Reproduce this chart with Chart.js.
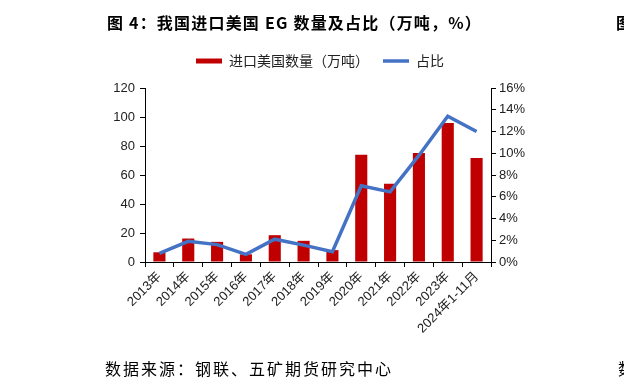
<!DOCTYPE html>
<html>
<head>
<meta charset="utf-8">
<script src="https://cdn.jsdelivr.net/npm/chart.js@4/dist/chart.umd.min.js"></script>
<style>
  body { margin: 0; background: #fff; overflow: hidden; }
  #wrap { position: relative; width: 624px; height: 390px; overflow: hidden; }
  canvas { position: absolute; left: 0; top: 0; }
  .txt { position: absolute; white-space: nowrap; color: #000; font-family: "Noto Sans CJK SC", sans-serif; }
  #title { left: 107px; top: 10px; font-size: 16px; font-weight: bold; letter-spacing: 1.2px; }
  #title2 { left: 616px; top: 10px; font-size: 16px; font-weight: bold; }
  #source { left: 105px; top: 356px; font-size: 16px; letter-spacing: 2px; }
  #source2 { left: 618px; top: 356px; font-size: 16px; }
</style>
</head>
<body>
<div id="wrap">
  <canvas id="chart" width="624" height="390"></canvas>
  <div class="txt" id="title">图 4：我国进口美国 EG 数量及占比（万吨，%）</div>
  <div class="txt" id="title2">图</div>
  <div class="txt" id="source">数据来源：钢联、五矿期货研究中心</div>
  <div class="txt" id="source2">数</div>
</div>
<script>
const categories = ['2013年', '2014年', '2015年', '2016年', '2017年', '2018年', '2019年',
  '2020年', '2021年', '2022年', '2023年', '2024年1-11月'];
// 进口美国数量（万吨）
const volume = [6.7, 16.2, 13.9, 5.3, 18.5, 14.6, 8.2, 74, 54, 75.2, 95.8, 71.8];
// 占比 (%)
const share = [0.8, 1.9, 1.6, 0.7, 2.1, 1.55, 0.95, 7.0, 6.45, 9.8, 13.4, 12.0];

const leftTicks = [0, 20, 40, 60, 80, 100, 120];
const rightTicks = [0, 2, 4, 6, 8, 10, 12, 14, 16];

const tickFont = { family: '"Liberation Sans", "Noto Sans CJK SC", sans-serif', size: 13 };

const ctx = document.getElementById('chart').getContext('2d');

// extra space under the legend
const legendGap = {
  id: 'legendGap',
  beforeInit(chart) {
    const fit = chart.legend.fit;
    chart.legend.fit = function () {
      fit.bind(chart.legend)();
      this.height += 10;
    };
  }
};

new Chart(ctx, {
  type: 'bar',
  data: {
    labels: categories,
    datasets: [{
      type: 'bar',
      label: '进口美国数量（万吨）',
      data: volume,
      backgroundColor: '#C00000',
      borderWidth: 0,
      barPercentage: 0.84,
      categoryPercentage: 0.5,
      pointStyle: 'rect',
      yAxisID: 'y',
      order: 2
    }, {
      type: 'line',
      label: '占比',
      data: share,
      borderColor: '#4472C4',
      backgroundColor: '#4472C4',
      borderWidth: 3.5,
      pointRadius: 0,
      pointStyle: 'line',
      tension: 0,
      yAxisID: 'y1',
      order: 1
    }]
  },
  options: {
    responsive: false,
    animation: false,
    layout: { padding: { left: 16, right: 0, top: 40, bottom: 0 } },
    plugins: {
      legend: {
        position: 'top',
        labels: {
          usePointStyle: true,
          pointStyleWidth: 26,
          boxHeight: 5,
          padding: 14,
          color: '#222',
          font: { family: '"Noto Sans CJK SC", sans-serif', size: 14 },
          sort: (a, b) => a.datasetIndex - b.datasetIndex
        }
      },
      tooltip: { enabled: false }
    },
    scales: {
      x: {
        grid: { display: true, drawOnChartArea: false, drawTicks: true, tickLength: 5, color: '#000', offset: true },
        border: { display: true, color: '#000', width: 1 },
        ticks: { color: '#222', font: tickFont, maxRotation: 45, minRotation: 45, autoSkip: false, padding: 2 },
        afterFit: scale => { scale.height = 128; }
      },
      y: {
        position: 'left',
        min: 0,
        max: 120,
        afterBuildTicks: scale => { scale.ticks = leftTicks.map(v => ({ value: v })); },
        grid: { display: true, drawOnChartArea: false, drawTicks: true, tickLength: 5, color: '#000' },
        border: { display: true, color: '#000', width: 1 },
        ticks: { color: '#222', font: tickFont, padding: 5 },
        afterFit: scale => { scale.width = 129; }
      },
      y1: {
        position: 'right',
        min: 0,
        max: 16,
        afterBuildTicks: scale => { scale.ticks = rightTicks.map(v => ({ value: v })); },
        grid: { display: true, drawOnChartArea: false, drawTicks: true, tickLength: 5, color: '#000' },
        border: { display: true, color: '#000', width: 1 },
        ticks: { color: '#222', font: tickFont, padding: 3, callback: v => v + '%' },
        afterFit: scale => { scale.width = 133; }
      }
    }
  },
  plugins: [legendGap]
});
</script>
</body>
</html>
